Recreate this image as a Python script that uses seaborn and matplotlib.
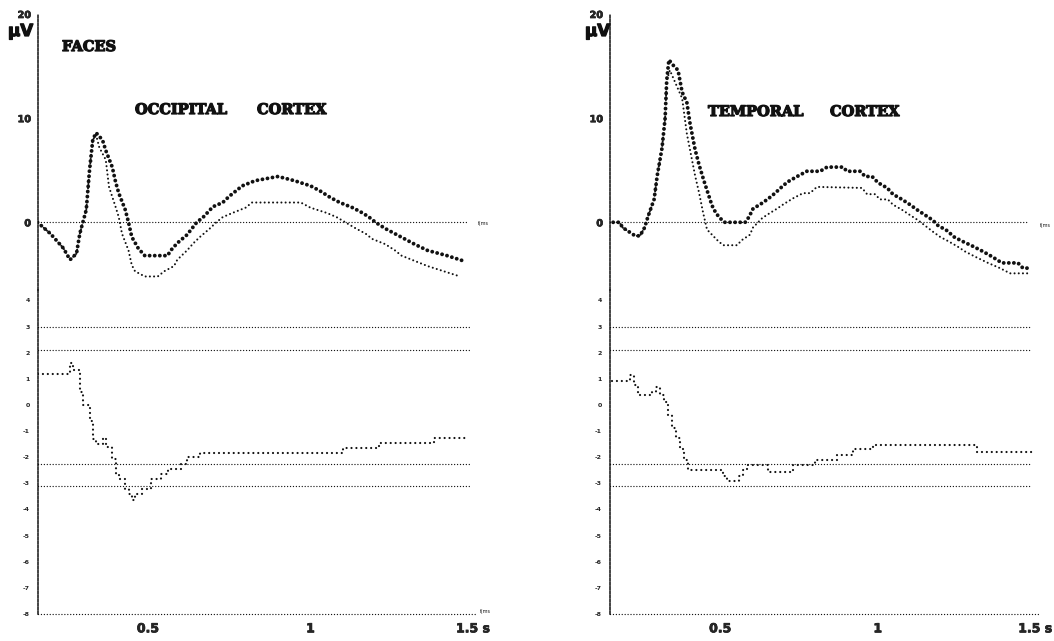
import matplotlib
matplotlib.use("Agg")
import matplotlib.pyplot as plt
import matplotlib.patheffects as pe
import seaborn as sns

# occipital cortex, upper panel (microvolts), filled-dot and small-dot traces
occ_a_t = [0.16, 0.20, 0.24, 0.26, 0.28, 0.29, 0.31, 0.32, 0.33, 0.34, 0.36, 0.37, 0.39, 0.40, 0.41,
           0.43, 0.44, 0.45, 0.47, 0.49, 0.56, 0.57, 0.59, 0.62, 0.65, 0.67, 0.70, 0.73, 0.75, 0.77,
           0.79, 0.83, 0.90, 0.95, 1.00, 1.03, 1.06, 1.09, 1.13, 1.16, 1.18, 1.20, 1.23, 1.26, 1.29,
           1.32, 1.36, 1.42, 1.47]
occ_a_v = [0.0, -1.1, -2.5, -3.6, -3.0, -1.1, 1.2, 5.0, 7.9, 8.6, 7.9, 6.9, 5.3, 3.9, 2.8,
           1.2, 0.0, -1.4, -2.5, -3.2, -3.2, -2.7, -2.0, -1.2, 0.0, 0.5, 1.5, 1.9, 2.5, 3.0,
           3.5, 4.0, 4.4, 4.0, 3.5, 3.0, 2.4, 1.9, 1.4, 0.9, 0.5, 0.0, -0.6, -1.1, -1.6,
           -2.1, -2.7, -3.2, -3.7]
occ_b_t = [0.16, 0.20, 0.24, 0.26, 0.28, 0.29, 0.31, 0.32, 0.33, 0.34, 0.35, 0.37, 0.38, 0.40, 0.41,
           0.42, 0.44, 0.45, 0.46, 0.49, 0.53, 0.55, 0.58, 0.59, 0.62, 0.64, 0.66, 0.69, 0.71, 0.73,
           0.76, 0.80, 0.82, 0.97, 1.00, 1.05, 1.08, 1.14, 1.17, 1.19, 1.23, 1.26, 1.28, 1.32, 1.36,
           1.41, 1.46]
occ_b_v = [0.0, -1.1, -2.5, -3.6, -3.0, -1.1, 1.2, 5.0, 7.9, 8.4, 7.2, 6.0, 3.4, 1.5, 0.5,
           -1.1, -2.7, -4.1, -4.7, -5.2, -5.2, -4.7, -4.2, -3.6, -2.7, -2.0, -1.4, -0.6, 0.0, 0.5,
           0.9, 1.4, 1.9, 1.9, 1.4, 0.9, 0.5, -0.6, -1.1, -1.6, -2.1, -2.7, -3.2, -3.7, -4.2,
           -4.7, -5.2]
# occipital cortex, lower panel statistic
occ_p_t = [0.16, 0.25, 0.26, 0.27, 0.29, 0.29, 0.30, 0.32, 0.33, 0.34, 0.36, 0.37, 0.39, 0.40, 0.41,
           0.43, 0.44, 0.45, 0.46, 0.48, 0.51, 0.54, 0.56, 0.60, 0.62, 0.66, 1.10, 1.21, 1.38, 1.48]
occ_p_v = [1.2, 1.2, 1.6, 1.35, 1.2, 0.5, 0.0, -0.6, -1.3, -1.5, -1.25, -1.6, -2.05, -2.65, -2.85,
           -3.2, -3.4, -3.65, -3.4, -3.2, -2.85, -2.65, -2.45, -2.25, -2.0, -1.85, -1.65, -1.45, -1.25, -1.25]

# temporal cortex, upper panel
tem_a_t = [0.16, 0.18, 0.19, 0.21, 0.23, 0.245, 0.26, 0.27, 0.29, 0.30, 0.315, 0.325, 0.33, 0.337, 0.35,
           0.366, 0.379, 0.394, 0.404, 0.42, 0.433, 0.448, 0.461, 0.474, 0.486, 0.499, 0.515, 0.579, 0.591, 0.604,
           0.62, 0.636, 0.658, 0.674, 0.699, 0.715, 0.744, 0.775, 0.817, 0.839, 0.89, 0.902, 0.944, 0.96, 0.982,
           1.001, 1.03, 1.048, 1.077, 1.102, 1.125, 1.15, 1.175, 1.191, 1.22, 1.242, 1.267, 1.302, 1.334, 1.363,
           1.394, 1.445, 1.461, 1.483]
tem_a_v = [0.0, 0.0, -0.5, -0.9, -1.3, -1.3, -0.5, 0.5, 2.2, 4.5, 7.1, 10.0, 13.6, 15.6, 15.1,
           14.6, 12.5, 11.5, 9.5, 7.0, 5.5, 4.0, 2.8, 1.6, 0.9, 0.4, 0.0, 0.0, 0.5, 1.3,
           1.6, 1.9, 2.4, 2.8, 3.5, 3.9, 4.4, 4.9, 4.9, 5.3, 5.3, 4.9, 4.9, 4.4, 4.4,
           3.8, 3.3, 2.7, 2.2, 1.7, 1.2, 0.7, 0.2, -0.3, -0.8, -1.4, -1.8, -2.3, -2.8, -3.3,
           -3.9, -3.9, -4.4, -4.4]
tem_b_t = [0.16, 0.18, 0.19, 0.21, 0.23, 0.245, 0.26, 0.27, 0.29, 0.30, 0.315, 0.325, 0.33, 0.34, 0.379,
           0.394, 0.407, 0.42, 0.433, 0.445, 0.458, 0.474, 0.49, 0.509, 0.553, 0.569, 0.594, 0.604, 0.633, 0.658,
           0.68, 0.699, 0.731, 0.763, 0.785, 0.807, 0.95, 0.966, 0.991, 1.007, 1.032, 1.048, 1.077, 1.102, 1.128,
           1.175, 1.198, 1.223, 1.252, 1.277, 1.309, 1.35, 1.388, 1.42, 1.483]
tem_b_v = [0.0, 0.0, -0.5, -0.9, -1.3, -1.3, -0.5, 0.5, 2.2, 4.5, 7.1, 10.0, 13.6, 14.6, 11.9,
           8.5, 6.5, 4.5, 2.8, 1.0, -0.7, -1.2, -1.7, -2.2, -2.2, -1.7, -1.2, -0.5, 0.4, 0.9,
           1.3, 1.7, 2.3, 2.8, 2.8, 3.4, 3.3, 2.7, 2.7, 2.2, 2.2, 1.7, 1.2, 0.7, 0.2,
           -0.9, -1.4, -1.8, -2.3, -2.8, -3.3, -3.9, -4.4, -4.9, -4.9]
# temporal cortex, lower panel statistic
tem_p_t = [0.156, 0.204, 0.213, 0.226, 0.239, 0.271, 0.283, 0.296, 0.309, 0.321, 0.334, 0.347, 0.36, 0.373, 0.385,
           0.398, 0.493, 0.509, 0.521, 0.547, 0.56, 0.572, 0.585, 0.642, 0.652, 0.721, 0.731, 0.801, 0.871, 0.921,
           0.985, 1.309, 1.315, 1.493]
tem_p_v = [0.9, 0.9, 1.15, 0.75, 0.4, 0.4, 0.5, 0.7, 0.4, 0.1, -0.4, -0.9, -1.25, -1.7, -2.1,
           -2.5, -2.5, -2.7, -2.9, -2.9, -2.7, -2.5, -2.3, -2.3, -2.55, -2.55, -2.3, -2.1, -1.9, -1.7,
           -1.55, -1.55, -1.8, -1.8]

thresholds = [3.0, 2.1, -2.25, -3.1]
upper_ticks = [0, 10, 20]
lower_ticks = [4, 3, 2, 1, 0, -1, -2, -3, -4, -5, -6, -7, -8]
time_ticks = [0.5, 1, 1.5]
time_labels = ["0.5", "1", "1.5 s"]

W, H = 1054, 641
INK = "#111111"
HEAVY = [pe.withStroke(linewidth=0.9, foreground=INK)]

sns.set_style("white")
plt.rcParams["font.family"] = ["DejaVu Sans"]

fig = plt.figure(figsize=(W / 100, H / 100), dpi=100)


def add_axes_px(x0, x1, y0, y1, t0, px_per_s):
    ax = fig.add_axes([x0 / W, 1 - y1 / H, (x1 - x0) / W, (y1 - y0) / H])
    ax.set_xlim(t0, t0 + (x1 - x0) / px_per_s)
    ax.set_facecolor("none")
    for s in ["top", "right", "bottom"]:
        ax.spines[s].set_visible(False)
    ax.spines["left"].set_linestyle((0, (1.6, 1.1)))
    ax.spines["left"].set_linewidth(1.1)
    ax.spines["left"].set_color(INK)
    return ax


def dotted(ax, x, y, lw, gap, steps=False):
    kw = dict(color=INK, linewidth=lw, linestyle=(0, (0.01, gap)),
              dash_capstyle="round", estimator=None, sort=False, ax=ax)
    if steps:
        kw["drawstyle"] = "steps-post"
    sns.lineplot(x=x, y=y, **kw)
    ax.set_xlabel("")
    ax.set_ylabel("")


def hline(ax, y, t0, t_end):
    ax.plot([t0, t_end], [y, y], color=INK, linewidth=1.0,
            linestyle=(0, (0.01, 2.1)), dash_capstyle="round", clip_on=False)


def panel(x0, x1, t0, px_per_s, a_t, a_v, b_t, b_v, p_t, p_v):
    top = add_axes_px(x0, x1, 14, 290, t0, px_per_s)
    bot = add_axes_px(x0, x1, 290, 614, t0, px_per_s)

    # upper panel: evoked potentials
    top.set_ylim(-6.5, 20)
    hline(top, 0, t0, 1.48)
    dotted(top, b_t, b_v, 1.5, 2.0)
    dotted(top, a_t, a_v, 2.8, 1.3)
    top.set_yticks(upper_ticks)
    top.set_yticklabels([str(v) for v in upper_ticks], fontsize=7, fontweight="bold")
    top.set_xticks([])
    top.tick_params(axis="y", length=2, width=1, pad=3, color=INK)

    # lower panel: statistic with threshold lines
    bot.set_ylim(-8, 4.4)
    for th in thresholds:
        hline(bot, th, t0, 1.49)
    hline(bot, -8, t0, 1.51)
    dotted(bot, p_t, p_v, 1.6, 2.2, steps=True)
    bot.set_yticks(lower_ticks)
    bot.set_yticklabels([str(v) for v in lower_ticks], fontsize=4.5, fontweight="bold")
    bot.tick_params(axis="y", length=2, width=1, pad=4, color=INK)
    bot.set_xticks(time_ticks)
    bot.set_xticklabels(time_labels, fontsize=9, fontweight="bold")
    bot.tick_params(axis="x", direction="in", length=4, width=1.5, pad=6, color=INK)
    for lab in top.get_yticklabels() + bot.get_xticklabels():
        lab.set_path_effects([pe.withStroke(linewidth=0.5, foreground=INK)])
    return top, bot


panel(38, 520, 0.1615, 325, occ_a_t, occ_a_v, occ_b_t, occ_b_v, occ_p_t, occ_p_v)
panel(610, 1054, 0.15, 315, tem_a_t, tem_a_v, tem_b_t, tem_b_v, tem_p_t, tem_p_v)


def ftext(x, y, s, **kw):
    return fig.text(x / W, 1 - y / H, s, va="center", color=INK, **kw)


serif = dict(family="DejaVu Serif", fontweight="bold", fontsize=10.5, path_effects=HEAVY)
ftext(8, 31, "\u03bcV", fontsize=12, fontweight="bold", path_effects=HEAVY)
ftext(585, 31, "\u03bcV", fontsize=12, fontweight="bold", path_effects=HEAVY)
ftext(62, 47, "FACES", **serif)
ftext(135, 110, "OCCIPITAL", **serif)
ftext(257, 110, "CORTEX", **serif)
ftext(708, 112, "TEMPORAL", **serif)
ftext(830, 112, "CORTEX", **serif)
for x, y in [(478, 223), (480, 612), (1040, 226)]:
    ftext(x, y, "f(ms", fontsize=3.5)

fig.savefig("out.png", dpi=100)
